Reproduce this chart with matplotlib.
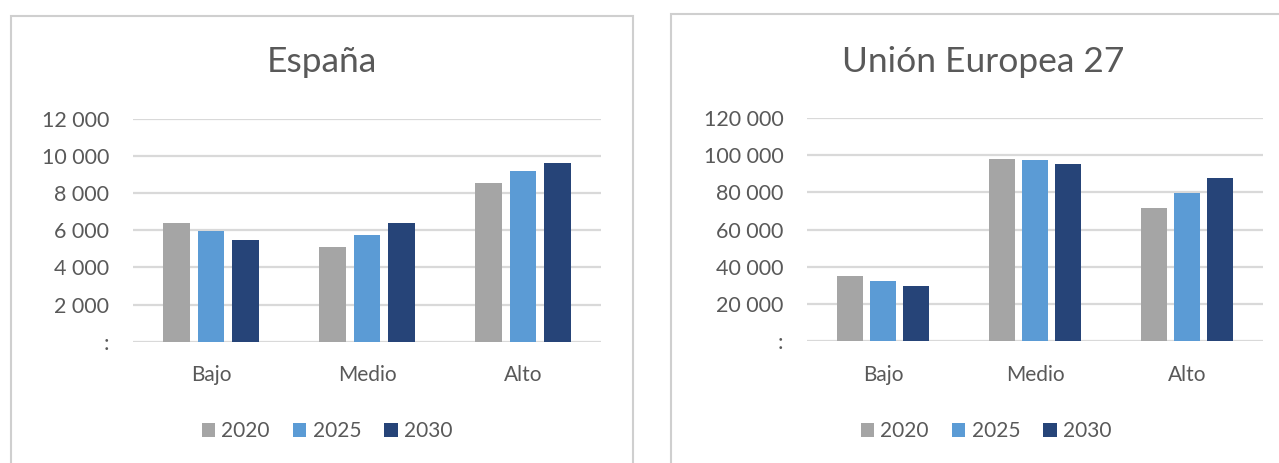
import numpy as np
import matplotlib
matplotlib.use("Agg")
import matplotlib.pyplot as plt
from matplotlib.patches import Rectangle, Patch

# data
categories = ["Bajo", "Medio", "Alto"]
years = ["2020", "2025", "2030"]

spain_2020 = [6380, 5090, 8540]
spain_2025 = [5970, 5740, 9190]
spain_2030 = [5470, 6380, 9620]

eu_2020 = [35300, 98200, 71500]
eu_2025 = [32400, 97500, 79600]
eu_2030 = [29600, 95300, 88000]

spain_ticks = [0, 2000, 4000, 6000, 8000, 10000, 12000]
spain_tick_labels = [":", "2 000", "4 000", "6 000", "8 000", "10 000", "12 000"]
eu_ticks = [0, 20000, 40000, 60000, 80000, 100000, 120000]
eu_tick_labels = [":", "20 000", "40 000", "60 000", "80 000", "100 000", "120 000"]

colors = ["#A5A5A5", "#5B9BD5", "#264478"]
text_color = "#595959"
grid_color = "#D9D9D9"

plt.rcParams["font.family"] = ["Lato", "DejaVu Sans"]

W, H = 1279, 463
fig = plt.figure(figsize=(W / 100, H / 100), dpi=100)


def px(x0, y0, x1, y1):
    # pixel box (top-left origin) -> figure fraction rect
    return [x0 / W, 1 - y1 / H, (x1 - x0) / W, (y1 - y0) / H]


def panel(box, title, title_x, series, ticks, tick_labels, legend_x):
    ax = fig.add_axes(box)
    x = np.arange(len(categories))
    offsets = [-0.218, 0, 0.218]
    for vals, off, col in zip(series, offsets, colors):
        ax.bar(x + off, vals, width=0.173, color=col, zorder=3)

    ax.set_xlim(-0.5, 2.5)
    ax.set_ylim(ticks[0], ticks[-1])
    ax.set_yticks(ticks, tick_labels)
    ax.set_xticks(x, categories)
    ax.tick_params(axis="y", length=0, pad=17, labelsize=15.5, labelcolor=text_color)
    ax.tick_params(axis="x", length=0, pad=17, labelsize=15, labelcolor=text_color)
    ax.yaxis.grid(True, color=grid_color, linewidth=1.6, zorder=0)
    ax.set_axisbelow(True)
    for s in ax.spines.values():
        s.set_visible(False)

    fig.text(title_x / W, 1 - 62 / H, title, ha="center", va="center",
             fontsize=25.5, color=text_color)

    handles = [Patch(facecolor=c, edgecolor="none") for c in colors]
    leg = ax.legend(handles, years, ncol=3, loc="center",
                    bbox_to_anchor=(legend_x / W, 1 - 431 / H),
                    bbox_transform=fig.transFigure, frameon=False,
                    fontsize=15, handlelength=0.65, handleheight=0.65,
                    handletextpad=0.3, columnspacing=1.1)
    for t in leg.get_texts():
        t.set_color(text_color)
    return ax


panel(px(133, 119, 601, 341.7), "España", 322,
      [spain_2020, spain_2025, spain_2030], spain_ticks, spain_tick_labels, 327)
panel(px(807, 118, 1263, 341.3), "Unión Europea 27", 983,
      [eu_2020, eu_2025, eu_2030], eu_ticks, eu_tick_labels, 986)

# chart borders
for x0, y0, x1 in [(11, 16, 633), (671, 14, 1300)]:
    fig.add_artist(Rectangle((x0 / W, -0.05), (x1 - x0) / W, 1 - y0 / H + 0.05,
                             transform=fig.transFigure, fill=False,
                             edgecolor="#CFCFCF", linewidth=1.5))

fig.savefig("out.png", dpi=100)
